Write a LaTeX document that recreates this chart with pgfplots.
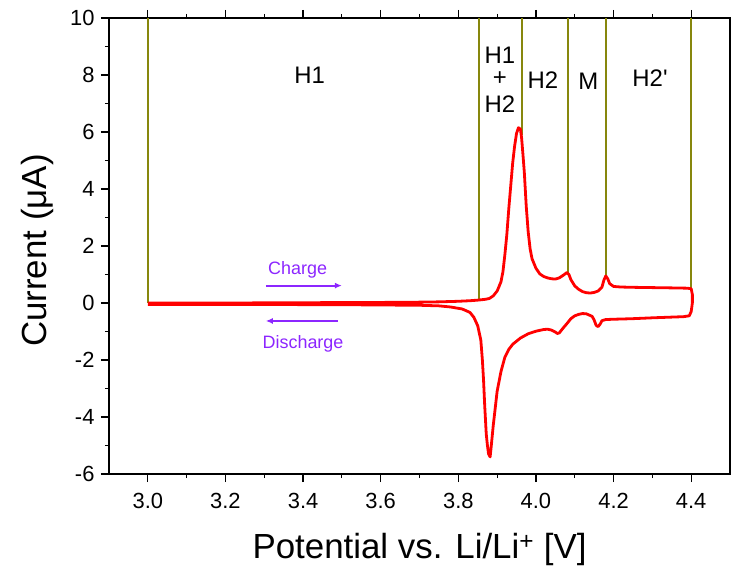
\documentclass[border=0pt]{standalone}
\usepackage{pgfplots}
\pgfplotsset{compat=1.18}
\usepackage{fontspec}
\setmainfont{Liberation Sans}
\usetikzlibrary{arrows.meta}
\definecolor{olivel}{rgb}{0.53,0.53,0.05}
\definecolor{purp}{rgb}{0.55,0.15,1.0}
\begin{document}
\begin{tikzpicture}
\begin{axis}[
  scale only axis,
  width=621bp, height=456bp,
  xmin=2.9, xmax=4.5, ymin=-6, ymax=10,
  xtick={3.0,3.2,...,4.41},
  ytick={-6,-4,...,10},
  minor x tick num=1, minor y tick num=1,
  xticklabel style={/pgf/number format/fixed,/pgf/number format/fixed zerofill,/pgf/number format/precision=1,yshift=-8bp},
  /pgf/number format/assume math mode=true,
  tick label style={font=\fontsize{22}{25}\selectfont},
  tick align=outside,
  major tick length=8bp, minor tick length=4bp,
  xtick pos=both, ytick pos=left,
  axis line style={line width=1.3bp},
  every tick/.style={black, line width=1.2bp},
  yticklabel style={xshift=-3bp},
  xlabel={Potential vs. Li/Li\textsuperscript{+} [V]},
  ylabel={Current (μA)},
  label style={font=\fontsize{35}{40}\selectfont},
  xlabel style={at={(axis description cs:0.5,0)}, anchor=center, yshift=-75bp},
  ylabel style={at={(axis description cs:0,0.49)}, anchor=center, yshift=72bp},
  clip=false,
]
\coordinate (SW) at (rel axis cs:0,0);
\coordinate (NE) at (rel axis cs:1,1);
% boundary lines
\addplot[olivel, line width=1.8bp] coordinates {(3.0,0) (3.0,10)};
\addplot[olivel, line width=1.8bp] coordinates {(3.853,0.09) (3.853,10)};
\addplot[olivel, line width=1.8bp] coordinates {(3.9635,5.9) (3.9635,10)};
\addplot[olivel, line width=1.8bp] coordinates {(4.082,1.05) (4.082,10)};
\addplot[olivel, line width=1.8bp] coordinates {(4.180,0.95) (4.180,10)};
\addplot[olivel, line width=1.8bp] coordinates {(4.399,0.52) (4.399,10)};
% CV curve
\addplot[red, line width=2.8bp, line join=round] coordinates {
(3.00,0.00) (3.20,0.00) (3.40,0.01) (3.60,0.02) (3.70,0.03) (3.75,0.04)
(3.80,0.06) (3.83,0.08) (3.85,0.10) (3.87,0.13) (3.88,0.16) (3.89,0.25)
(3.90,0.42) (3.905,0.58) (3.91,0.75) (3.915,1.1) (3.92,1.7) (3.925,2.4)
(3.93,3.3) (3.935,4.1) (3.94,4.9) (3.945,5.5) (3.95,5.95) (3.955,6.15)
(3.96,6.1) (3.963,5.8) (3.966,5.3) (3.97,4.6) (3.975,3.4) (3.98,2.5)
(3.985,1.9) (3.99,1.55) (4.00,1.22) (4.01,1.02) (4.02,0.93) (4.03,0.88)
(4.04,0.85) (4.05,0.84) (4.06,0.88) (4.07,0.97) (4.08,1.07) (4.085,1.0)
(4.09,0.82) (4.10,0.60) (4.11,0.48) (4.12,0.40) (4.13,0.36) (4.14,0.35)
(4.15,0.37) (4.16,0.42) (4.17,0.55) (4.175,0.8) (4.18,0.95) (4.185,0.85)
(4.19,0.68) (4.20,0.58) (4.22,0.56) (4.25,0.55) (4.30,0.54) (4.35,0.53)
(4.39,0.52) (4.40,0.50) (4.403,0.3) (4.403,0.0) (4.40,-0.3) (4.395,-0.45)
(4.38,-0.48) (4.30,-0.52) (4.25,-0.55) (4.20,-0.57) (4.18,-0.58) (4.17,-0.62)
(4.165,-0.75) (4.16,-0.83) (4.155,-0.78) (4.15,-0.6) (4.145,-0.47) (4.13,-0.38)
(4.12,-0.37) (4.11,-0.40) (4.10,-0.45) (4.09,-0.55) (4.08,-0.72) (4.07,-0.88)
(4.06,-1.05) (4.055,-1.07) (4.05,-1.02) (4.04,-0.95) (4.03,-0.92) (4.02,-0.93)
(4.00,-0.99) (3.98,-1.08) (3.96,-1.23) (3.94,-1.45) (3.93,-1.63) (3.92,-1.9)
(3.91,-2.4) (3.90,-3.1) (3.895,-3.7) (3.89,-4.3) (3.885,-5.0) (3.882,-5.4)
(3.878,-5.3) (3.875,-5.0) (3.872,-4.6) (3.868,-3.6) (3.865,-2.7) (3.862,-2.0)
(3.858,-1.3) (3.85,-0.8) (3.84,-0.5) (3.83,-0.33) (3.81,-0.21) (3.78,-0.14)
(3.75,-0.10) (3.70,-0.08) (3.50,-0.06) (3.20,-0.05) (3.00,-0.05)
};
% region labels
\node[font=\fontsize{24}{28}\selectfont] at (axis cs:3.417,8.0) {H1};
\node[font=\fontsize{24}{28}\selectfont] at (axis cs:3.907,8.7) {H1};
\node[font=\fontsize{24}{28}\selectfont] at (axis cs:3.907,7.86) {+};
\node[font=\fontsize{24}{28}\selectfont] at (axis cs:3.907,6.98) {H2};
\node[font=\fontsize{24}{28}\selectfont] at (axis cs:4.018,7.82) {H2};
\node[font=\fontsize{24}{28}\selectfont] at (axis cs:4.135,7.77) {M};
\node[font=\fontsize{24}{28}\selectfont] at (axis cs:4.294,7.88) {H2\textquotesingle};
% charge / discharge
\node[purp, font=\fontsize{18}{20}\selectfont] at (axis cs:3.386,1.16) {Charge};
\draw[purp, line width=2bp, -{Latex[length=7bp,width=6bp]}] (axis cs:3.304,0.61) -- (axis cs:3.500,0.61);
\draw[purp, line width=2bp, -{Latex[length=7bp,width=6bp]}] (axis cs:3.49,-0.63) -- (axis cs:3.304,-0.63);
\node[purp, font=\fontsize{18}{20}\selectfont] at (axis cs:3.40,-1.44) {Discharge};
\end{axis}
\pgfresetboundingbox
\path[use as bounding box] ([shift={(-109bp,-92bp)}]SW) rectangle ([shift={(3bp,18bp)}]NE);
\end{tikzpicture}
\end{document}
